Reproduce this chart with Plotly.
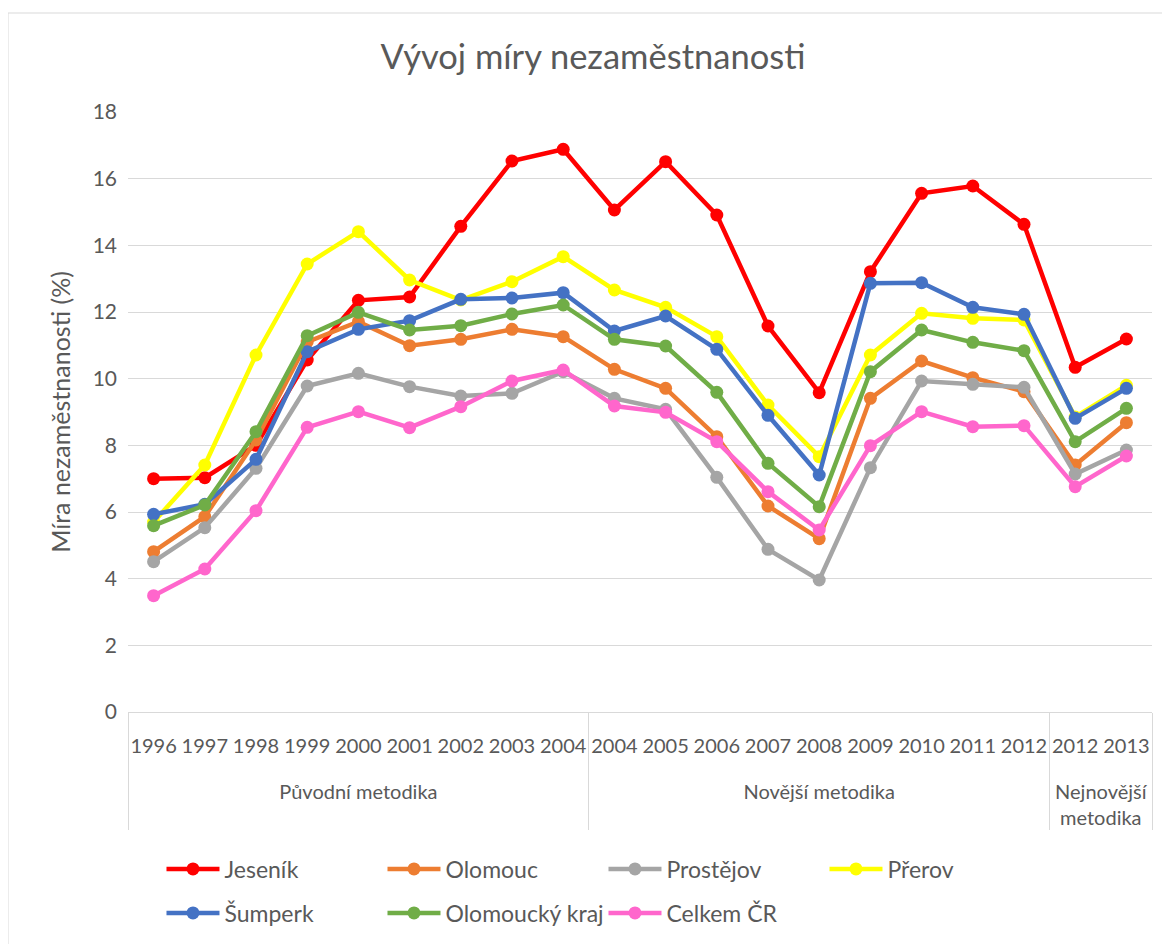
import plotly.graph_objects as go

years = ["1996", "1997", "1998", "1999", "2000", "2001", "2002", "2003", "2004",
         "2004", "2005", "2006", "2007", "2008", "2009", "2010", "2011", "2012",
         "2012", "2013"]
groups = (["Původní metodika"] * 9 + ["Novější metodika"] * 9
          + ["Nejnovější<br>metodika"] * 2)

jesenik = [7.0, 7.03, 8.0, 10.56, 12.35, 12.45, 14.57, 16.53, 16.88, 15.06,
           16.51, 14.91, 11.58, 9.58, 13.21, 15.56, 15.78, 14.63, 10.34, 11.19]
olomouc = [4.81, 5.86, 8.16, 11.1, 11.71, 10.99, 11.18, 11.48, 11.26, 10.28,
           9.71, 8.26, 6.18, 5.2, 9.41, 10.53, 10.03, 9.61, 7.41, 8.68]
prostejov = [4.51, 5.53, 7.31, 9.78, 10.16, 9.76, 9.48, 9.56, 10.21, 9.41,
             9.08, 7.04, 4.88, 3.96, 7.33, 9.93, 9.83, 9.74, 7.14, 7.86]
prerov = [5.7, 7.41, 10.71, 13.44, 14.41, 12.96, 12.36, 12.91, 13.66, 12.66,
          12.14, 11.26, 9.21, 7.66, 10.71, 11.96, 11.81, 11.76, 8.85, 9.8]
sumperk = [5.93, 6.23, 7.58, 10.81, 11.48, 11.74, 12.38, 12.42, 12.58, 11.43,
           11.88, 10.88, 8.9, 7.11, 12.86, 12.88, 12.14, 11.93, 8.81, 9.71]
olomoucky_kraj = [5.59, 6.21, 8.41, 11.29, 11.99, 11.46, 11.59, 11.94, 12.21, 11.18,
                  10.98, 9.59, 7.46, 6.16, 10.21, 11.46, 11.09, 10.84, 8.11, 9.11]
celkem_cr = [3.49, 4.29, 6.04, 8.54, 9.01, 8.53, 9.16, 9.93, 10.26, 9.18,
             8.99, 8.11, 6.61, 5.46, 7.99, 9.01, 8.56, 8.59, 6.76, 7.68]

series = [
    ("Jeseník", jesenik, "#FF0000", "legend"),
    ("Olomouc", olomouc, "#ED7D31", "legend"),
    ("Prostějov", prostejov, "#A5A5A5", "legend"),
    ("Přerov", prerov, "#FFFF00", "legend"),
    ("Šumperk", sumperk, "#4472C4", "legend2"),
    ("Olomoucký kraj", olomoucky_kraj, "#70AD47", "legend2"),
    ("Celkem ČR", celkem_cr, "#FF66CC", "legend2"),
]

FONT = "Lato, 'Open Sans', sans-serif"
TXT = "#595959"
GRID = "#D9D9D9"

# page body has an 8px default margin: figure is sized/offset to compensate
W, H = 1162, 936

# invisible spacer line under each year label, pushing the group row lower
SPACER = "<br><span style='font-size:50px'>\u00a0</span>"
year_cats = [y + SPACER for y in years]

fig = go.Figure()
for name, vals, color, lg in series:
    fig.add_trace(go.Scatter(
        x=[groups, year_cats], y=vals, name=name, mode="lines+markers",
        line=dict(color=color, width=4.5),
        marker=dict(color=color, size=13),
        legend=lg,
    ))

legend_common = dict(
    orientation="h", xanchor="left", yanchor="middle",
    entrywidth=153, entrywidthmode="pixels", itemwidth=53,
    font=dict(family=FONT, size=23, color=TXT),
    bgcolor="rgba(0,0,0,0)", itemclick=False,
)

fig.update_layout(
    width=W, height=H,
    margin=dict(l=120, r=18, t=104, b=232, autoexpand=False),
    paper_bgcolor="white", plot_bgcolor="white",
    font=dict(family=FONT, color=TXT),
    title=dict(text="Vývoj míry nezaměstnanosti", x=585 / W, xref="container",
               y=1 - 49 / H, yref="container", yanchor="middle", xanchor="center",
               font=dict(family=FONT, size=34.5, color=TXT)),
    legend=dict(x=0.0327, y=(712 - 869) / 600, **legend_common),
    legend2=dict(x=0.0327, y=(712 - 913) / 600, **legend_common),
    showlegend=True,
    hovermode="closest",
    shapes=[dict(type="rect", xref="paper", yref="paper",
                 x0=(8 - 128) / 1024, x1=(1180 - 128) / 1024,
                 y0=(712 - 960) / 600, y1=(712 - 13) / 600,
                 line=dict(color=GRID, width=1), layer="below")],
)

fig.update_xaxes(
    type="multicategory", automargin=False, showline=True, linecolor=GRID, linewidth=1,
    showgrid=False, tickangle=0, ticks="", ticklabelstandoff=16,
    tickfont=dict(family=FONT, size=20, color=TXT),
    showdividers=True, dividercolor=GRID, dividerwidth=1,
    range=[-0.5, 19.5],
)
fig.update_yaxes(
    automargin=False, range=[0, 18], tickvals=list(range(0, 19, 2)), showgrid=True,
    gridcolor=GRID, gridwidth=1.3, zeroline=False, showline=False, ticks="",
    tickfont=dict(family=FONT, size=21, color=TXT), ticklabelstandoff=10,
    title=dict(text="Míra nezaměstnanosti (%)", standoff=14,
               font=dict(family=FONT, size=25, color=TXT)),
)

fig.write_html("out.html")
